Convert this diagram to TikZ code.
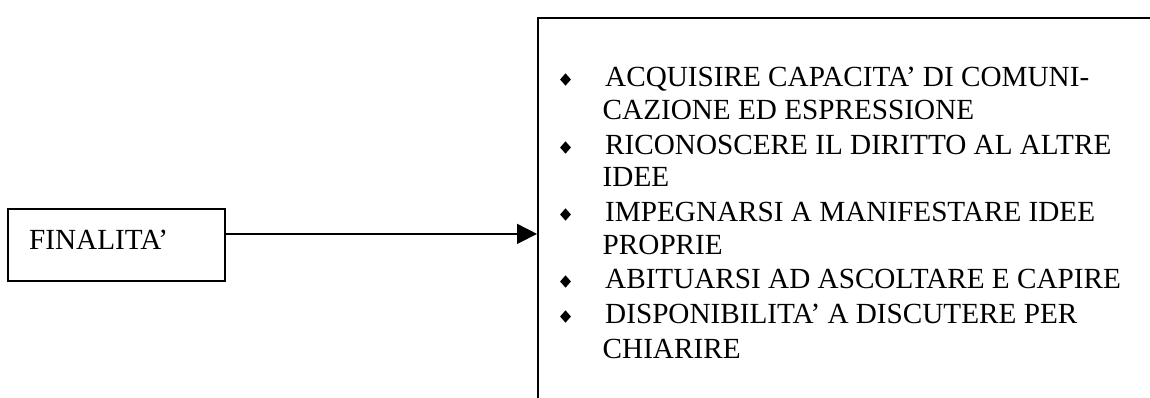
\documentclass[tikz,border=0pt]{standalone}
\usepackage{fontspec}
\setmainfont{Liberation Serif}
\usetikzlibrary{arrows.meta,shapes.geometric}
\begin{document}
\begin{tikzpicture}[x=1pt,y=-1pt,
  box/.style={draw, line width=1.8pt, inner sep=0pt},
  txt/.style={anchor=base west, inner sep=0pt, font=\fontsize{29.2}{34}\selectfont},
  bul/.style={fill, shape=diamond, inner sep=0pt, minimum width=11pt, minimum height=12.5pt},
  conn/.style={line width=1.6pt, -{Triangle[length=20pt,width=20pt]}}]
\useasboundingbox (0,0) rectangle (1150,397);
\begin{scope}
\clip (0,0) rectangle (1150,397);
\node[box, minimum width=640pt, minimum height=432pt, anchor=north west] (goals) at (537,17) {};
\end{scope}
\node[box, minimum width=217pt, minimum height=72pt] (fin) at (116.5,245) {};
\node[txt] (fintext) at (29,249) {FINALITA’};
\draw[conn] (fin.east |- goals.west) -- (goals.west);
\node[bul] (b1) at (565.5,79.5) {};
\node[bul] (b2) at (565.5,147.5) {};
\node[bul] (b3) at (565.5,214.5) {};
\node[bul] (b4) at (565.5,281.5) {};
\node[bul] (b5) at (565.5,316.5) {};
\node[txt] (l1) at (605,86) {ACQUISIRE CAPACITA’ DI COMUNI-};
\node[txt] (l1b) at (602.5,119) {CAZIONE ED ESPRESSIONE};
\node[txt] (l2) at (605,154) {RICONOSCERE IL DIRITTO AL ALTRE};
\node[txt] (l2b) at (602.5,186) {IDEE};
\node[txt] (l3) at (605,221) {IMPEGNARSI A MANIFESTARE IDEE};
\node[txt] (l3b) at (602.5,254) {PROPRIE};
\node[txt] (l4) at (605,288) {ABITUARSI AD ASCOLTARE E CAPIRE};
\node[txt] (l5) at (605,323) {DISPONIBILITA’ A DISCUTERE PER};
\node[txt] (l5b) at (602.5,358) {CHIARIRE};
\end{tikzpicture}
\end{document}
